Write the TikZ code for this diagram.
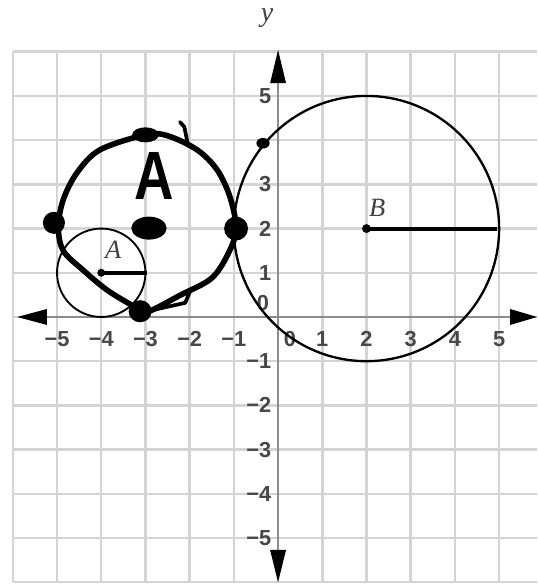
\documentclass[tikz,border=0pt]{standalone}
\usepackage{fontspec}
\setmainfont{Liberation Sans}
\newfontfamily\serifit{Liberation Serif}
\begin{document}
\begin{tikzpicture}[
  gridline/.style={line width=1.6pt, black!17},
  axisline/.style={line width=1.8pt, black!45},
  tiphead/.style={fill=black},
  ticklab/.style={font=\fontsize{14}{14}\selectfont\bfseries, text=black!72, inner sep=0pt},
  letterlab/.style={font=\serifit\itshape\fontsize{17}{17}\selectfont, text=black!75, inner sep=0pt},
  thincirc/.style={line width=1.5pt},
  boldcirc/.style={line width=3.6pt, line join=round, line cap=round},
  radseg/.style={line width=2.6pt},
  blob/.style={fill=black}
]
\useasboundingbox (-6.29,-6.04) rectangle (5.86,7.17);
\fill[white] (-6.29,-6.04) rectangle (5.86,7.17);
% grid
\draw[gridline] (-6,-6) grid (5.86,6);
% axes
\coordinate (xL) at (-5.5,0);
\coordinate (xR) at (5.5,0);
\coordinate (yT) at (0,5.6);
\coordinate (yB) at (0,-5.6);
\draw[axisline] (xL) -- (xR);
\draw[axisline] (yB) -- (yT);
\fill[tiphead] (-5.9,0) -- (-5.23,0.18) -- (-5.23,-0.18) -- cycle;
\fill[tiphead] (5.86,0) -- (5.25,0.18) -- (5.25,-0.18) -- cycle;
\fill[tiphead] (0,6.04) -- (-0.18,5.29) -- (0.18,5.29) -- cycle;
\fill[tiphead] (0,-6.0) -- (-0.18,-5.27) -- (0.18,-5.27) -- cycle;
% tick labels
\foreach \x/\t in {-5/−5,-4/−4,-3/−3,-2/−2,-1/−1,1/1,2/2,3/3,4/4,5/5}
  \node[ticklab] (xl\x) at (\x,-0.5) {\t};
\node[ticklab] (xzero) at (0.27,-0.5) {0};
\foreach \y/\t in {-5/−5,-4/−4,-3/−3,-2/−2,-1/−1,1/1,2/2,3/3,5/5}
  \node[ticklab, anchor=east] (yl\y) at (-0.15,\y) {\t};
\node[ticklab, anchor=east] (yzero) at (-0.2,0.32) {0};
\node[font=\serifit\itshape\fontsize{18}{18}\selectfont, text=black!75, inner sep=0pt] (ylab) at (-0.25,6.76) {y};
% circle B
\coordinate (cB) at (2,2);
\coordinate (eB) at (4.95,2);
\draw[thincirc] (cB) circle (3);
\draw[radseg] (cB) -- (eB);
\fill[blob] (cB) circle (0.1);
\node[letterlab] (labB) at (2.24,2.47) {B};
\fill[blob] (-0.34,3.93) ellipse (0.15 and 0.12);
% circle A
\coordinate (cA) at (-4,1);
\coordinate (eA) at (-2.97,1);
\draw[line width=1.2pt] (cA) circle (1);
\draw[radseg, line width=2.4pt] (cA) -- (eA);
\fill[blob] (cA) circle (0.09);
\node[letterlab] (labA) at (-3.73,1.52) {A};
% hand-drawn bold circle
\draw[boldcirc] plot[smooth cycle, tension=0.55] coordinates {
  (-3,4.12) (-4.03,3.78) (-4.55,3.26) (-4.86,2.65) (-4.97,2.04) (-4.86,1.5)
  (-4.41,1.06) (-3.87,0.61) (-3.28,0.25) (-3.0,0.1) (-2.2,0.5) (-1.5,0.88)
  (-1.12,1.45) (-0.95,2.0) (-1.09,2.72) (-1.38,3.33) (-1.83,3.78) (-2.5,4.1)};
\fill[blob] (-3.0,4.12) ellipse (0.3 and 0.17);
\fill[blob] (-5.07,2.13) circle (0.25);
\fill[blob] (-2.92,2.01) ellipse (0.4 and 0.26);
\fill[blob] (-0.95,2.0) ellipse (0.27 and 0.27);
\fill[blob] (-3.12,0.13) ellipse (0.26 and 0.25);
\draw[line width=2.4pt, line cap=round, line join=round] (-2.22,4.41) -- (-2.12,4.3) -- (-2.04,3.9);
\draw[line width=2.4pt, line cap=round, line join=round] (-3.0,0.12) -- (-2.1,0.32) -- (-2.0,0.56);
\node[font=\fontsize{44}{44}\selectfont\bfseries, inner sep=0pt] (handA) at (-2.8,3.18) {\scalebox{0.8}[1]{A}};
\end{tikzpicture}
\end{document}
